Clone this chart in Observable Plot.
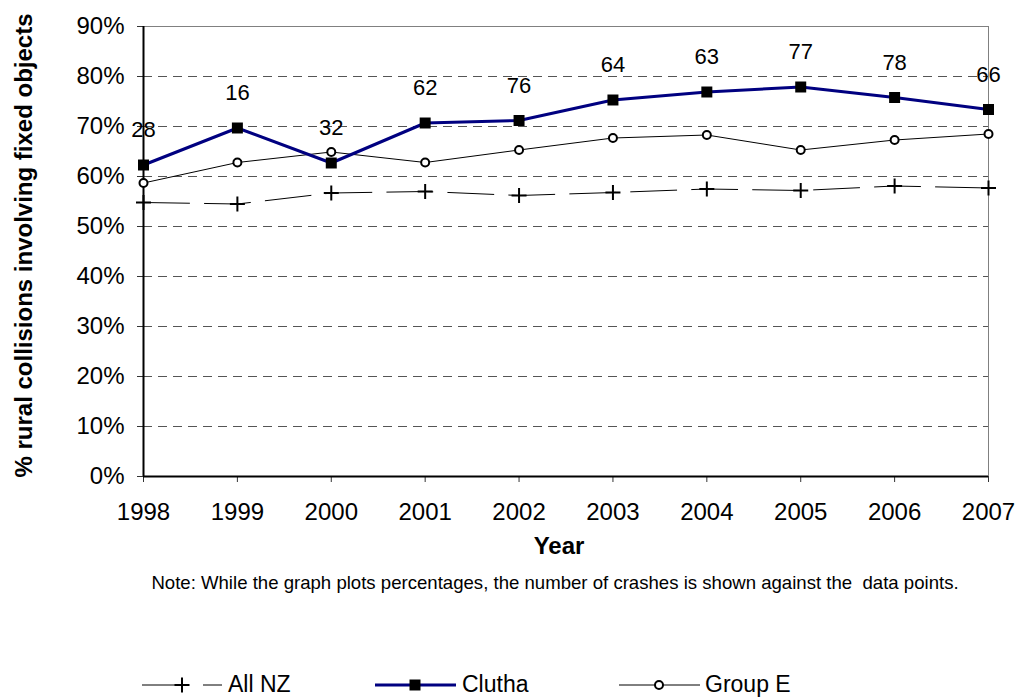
<!DOCTYPE html>
<html><head><meta charset="utf-8">
<script src="https://cdn.jsdelivr.net/npm/d3@7"></script>
<script src="https://cdn.jsdelivr.net/npm/@observablehq/plot@0.6"></script>
<style>
body{margin:0;background:#fff;font-family:"Liberation Sans",Arial,sans-serif;}
#wrap{position:relative;width:1018px;height:697px;overflow:hidden;background:#fff;}
#chart{position:absolute;left:0;top:0;}
#note{position:absolute;left:0;top:573px;width:1110px;text-align:center;font-size:18.6px;line-height:20px;white-space:pre;color:#000;}
#legend{position:absolute;left:0;top:660px;}
</style></head>
<body><div id="wrap"><div id="chart"></div><div id="note"></div><div id="legend"></div></div>
<script>
const years = [1998, 1999, 2000, 2001, 2002, 2003, 2004, 2005, 2006, 2007];
const allNZ = [0.548, 0.545, 0.567, 0.570, 0.562, 0.568, 0.575, 0.572, 0.581, 0.577];
const clutha = [0.623, 0.697, 0.627, 0.707, 0.712, 0.753, 0.769, 0.779, 0.758, 0.734];
const groupE = [0.587, 0.628, 0.649, 0.628, 0.653, 0.677, 0.683, 0.653, 0.673, 0.685];
const crashCounts = [28, 16, 32, 62, 76, 64, 63, 77, 78, 66];
const yTicks = [0, 0.1, 0.2, 0.3, 0.4, 0.5, 0.6, 0.7, 0.8, 0.9];
const seriesNames = ["All NZ", "Clutha", "Group E"];
const yTitle = "% rural collisions involving fixed objects";
const xTitle = "Year";
const noteText = "Note: While the graph plots percentages, the number of crashes is shown against the  data points.";

const rowsNZ = years.map((year, i) => ({year, value: allNZ[i]}));
const rowsClutha = years.map((year, i) => ({year, value: clutha[i], count: crashCounts[i]}));
const rowsE = years.map((year, i) => ({year, value: groupE[i]}));
const gridVals = yTicks.filter(v => v > 0 && v < 0.9);
const font = "'Liberation Sans', Arial, sans-serif";

const chart = Plot.plot({
  width: 1018, height: 570,
  marginLeft: 143, marginRight: 30, marginTop: 26, marginBottom: 94,
  style: {fontFamily: font, fontSize: "24px", color: "black", background: "white", overflow: "visible"},
  x: {type: "linear", domain: [1998, 2007]},
  y: {domain: [0, 0.9]},
  marks: [
    Plot.ruleY(gridVals, {y: d => d, stroke: "#555", strokeWidth: 1, strokeDasharray: "9,6"}),
    Plot.ruleY([0.9], {stroke: "#808080", strokeWidth: 1}),
    Plot.ruleX([2007], {stroke: "#808080", strokeWidth: 1}),
    Plot.axisY({ticks: yTicks, tickFormat: d => Math.round(d * 100) + "%", tickSize: 6, tickPadding: 13, fontSize: 24, label: null, stroke: "#333"}),
    Plot.axisX({ticks: years, tickFormat: d => String(d), tickSize: 6, tickPadding: 20, fontSize: 24, label: null, stroke: "#333"}),
    Plot.ruleX([1998], {stroke: "black", strokeWidth: 2}),
    Plot.ruleY([0], {stroke: "black", strokeWidth: 2}),
    Plot.lineY(rowsE, {x: "year", y: "value", stroke: "black", strokeWidth: 1}),
    Plot.dot(rowsE, {x: "year", y: "value", symbol: "circle", r: 4, fill: "white", stroke: "black", strokeWidth: 2}),
    Plot.lineY(rowsNZ, {x: "year", y: "value", stroke: "black", strokeWidth: 1, strokeDasharray: "46,15"}),
    Plot.dot(rowsNZ, {x: "year", y: "value", symbol: "plus", r: 4.9, stroke: "black", strokeWidth: 2}),
    Plot.lineY(rowsClutha, {x: "year", y: "value", stroke: "#000080", strokeWidth: 3}),
    Plot.dot(rowsClutha, {x: "year", y: "value", symbol: "square", r: 6.2, fill: "black", stroke: "none"}),
    Plot.text(rowsClutha, {x: "year", y: "value", text: "count", dy: -35, fontSize: 22, fill: "black"}),
    Plot.text([yTitle], {frameAnchor: "left", textAnchor: "middle", lineAnchor: "middle", rotate: -90, dx: -119, dy: -6, fontSize: 24, fontWeight: "bold", fill: "black"}),
    Plot.text([xTitle], {frameAnchor: "bottom", dx: -7, dy: 77, fontSize: 24, fontWeight: "bold", fill: "black"})
  ]
});
document.getElementById("chart").appendChild(chart);
document.getElementById("note").textContent = noteText;

// legend
const lg = d3.select("#legend").append("svg").attr("width", 1018).attr("height", 37)
  .style("font-family", font).style("overflow", "visible");
const cy = 25;
const baseY = 32;
const sym = (type, r) => d3.symbol(type, Math.PI * r * r)();
const items = [
  {name: seriesNames[0], x1: 142, x2: 222, mx: 182, tx: 228, stroke: "black", sw: 1, dash: "46,15",
   marker: g => g.append("path").attr("d", sym(d3.symbolPlus, 4.9)).attr("fill", "none").attr("stroke", "black").attr("stroke-width", 2)},
  {name: seriesNames[1], x1: 375, x2: 456, mx: 415, tx: 462, stroke: "#000080", sw: 3, dash: null,
   marker: g => g.append("path").attr("d", sym(d3.symbolSquare, 6.2)).attr("fill", "black")},
  {name: seriesNames[2], x1: 619, x2: 700, mx: 659, tx: 705, stroke: "black", sw: 1, dash: null,
   marker: g => g.append("circle").attr("r", 4).attr("fill", "white").attr("stroke", "black").attr("stroke-width", 2)}
];
for (const it of items) {
  lg.append("line").attr("x1", it.x1).attr("x2", it.x2).attr("y1", cy).attr("y2", cy)
    .attr("stroke", it.stroke).attr("stroke-width", it.sw).attr("stroke-dasharray", it.dash);
  const g = lg.append("g").attr("transform", `translate(${it.mx},${cy})`);
  it.marker(g);
  lg.append("text").attr("x", it.tx).attr("y", baseY).attr("font-size", 23).attr("fill", "black").text(it.name);
}
</script>
</body></html>
